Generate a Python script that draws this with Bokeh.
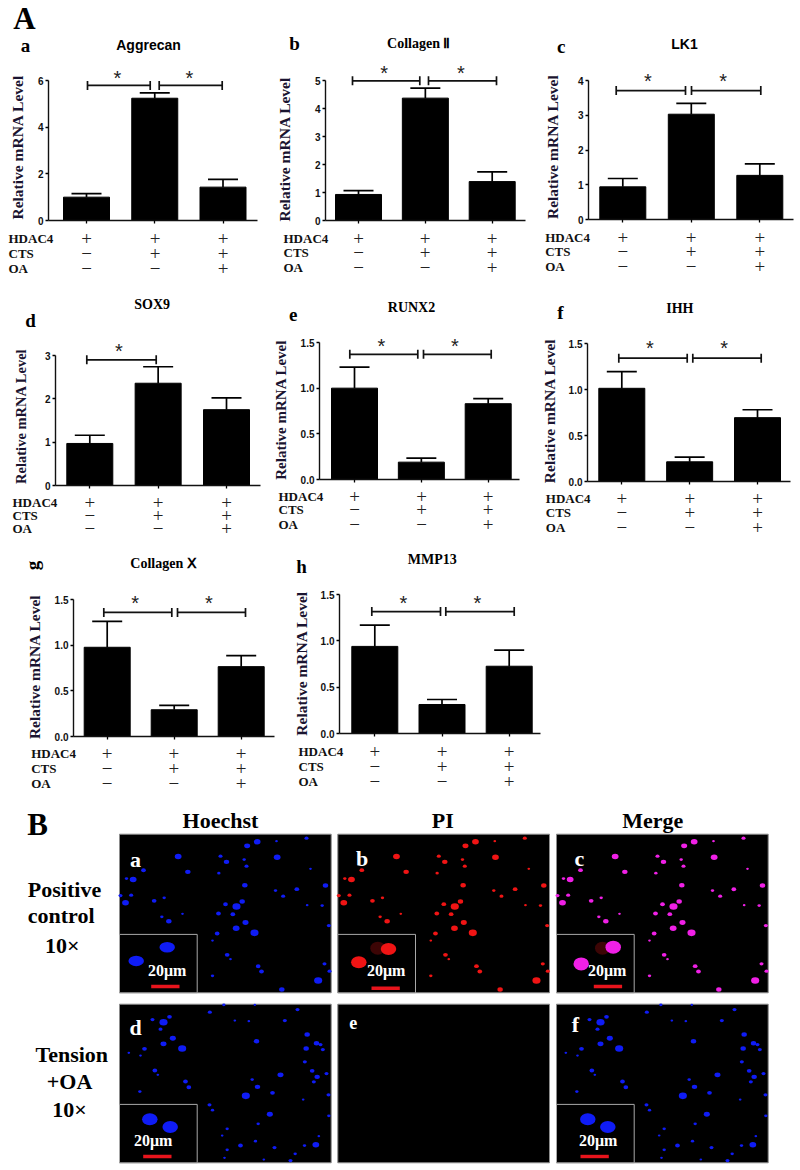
from bokeh.plotting import figure
from bokeh.models import Label, Range1d, FixedTicker, NumeralTickFormatter
from bokeh.layouts import column, row
from bokeh.embed import file_html
from bokeh.resources import INLINE

# ---------- data ----------
groups = [1, 2, 3]
row_names = ["HDAC4", "CTS", "OA"]
hdac4_signs = ["+", "+", "+"]
cts_signs = ["\u2212", "+", "+"]
oa_signs = ["\u2212", "\u2212", "+"]

aggrecan_mean = [1.00, 5.24, 1.43]
aggrecan_top = [1.15, 5.47, 1.76]
collagen2_mean = [0.93, 4.37, 1.39]
collagen2_top = [1.07, 4.73, 1.74]
lk1_mean = [0.94, 3.03, 1.27]
lk1_top = [1.18, 3.34, 1.60]
sox9_mean = [0.97, 2.36, 1.75]
sox9_top = [1.16, 2.74, 2.02]
runx2_mean = [1.00, 0.19, 0.83]
runx2_top = [1.23, 0.234, 0.886]
ihh_mean = [1.013, 0.214, 0.694]
ihh_top = [1.195, 0.265, 0.78]
collagen10_mean = [0.977, 0.293, 0.765]
collagen10_top = [1.26, 0.34, 0.886]
mmp13_mean = [0.94, 0.313, 0.726]
mmp13_top = [1.17, 0.367, 0.90]

ticks_6 = [0, 2, 4, 6]
ticks_5 = [0, 1, 2, 3, 4, 5]
ticks_4 = [0, 1, 2, 3, 4]
ticks_3 = [0, 1, 2, 3]
ticks_15 = [0, 0.5, 1.0, 1.5]

# nuclei of the upper and lower micrographs, in 1/3 pixel of the image: x, y, diameter (px)
upper_x = [740,770,830,660,678,731,738,533,562,429,655,398,378,733,889,825,848,975,392,375,360,461,491,725,708,675,654,697,505,484,546,735,707,762,650,636,680,690,773,783,972,953,844,636,985,987,920,965,930,918,828]
upper_y = [136,124,170,167,184,177,197,168,214,209,218,237,234,254,266,270,287,255,284,307,285,301,292,303,318,311,339,341,362,349,340,366,383,397,399,420,463,476,497,513,490,540,567,526,375,512,314,315,205,113,122]
upper_d = [4.5,5,5,3,4,2.5,3,5,4,3.5,2.5,5,2.5,4,3.5,2.5,3,4,3,5,3,3.5,2.5,4,6,3.5,3.5,3.5,4,2.5,2,4.5,5,6,3.5,2,3.5,2,3.5,3.5,3,6,4,2.5,3,3,2,2.5,2,3,2]
lower_x = [456,489,507,480,517,489,545,432,420,385,463,472,555,565,418,628,670,763,703,745,853,891,920,768,948,960,917,967,913,935,978,950,840,940,755,771,816,736,984,908,627,636,808,985,773,680,665,720,765,822,680,884,912,946,870,790,672,955]
lower_y = [87,95,79,116,143,160,174,175,195,187,240,253,273,290,303,65,43,43,90,92,90,57,132,152,158,162,174,177,214,241,249,259,253,274,267,289,307,316,313,327,343,359,371,376,400,415,435,465,452,471,478,490,465,463,510,507,502,437]
lower_d = [3,6,3.5,3,4.5,4.5,6,3.5,2,2,3.5,2,3.5,3.5,2.5,3,2.5,2,2,2,3,3,4,4,4,3,4,3,3,3.5,3,4,4.5,3,2.5,4,3.5,6,3,2,3,2.5,4.5,2.5,2.5,2.5,2,3.5,2.5,3,2.5,2.5,2.5,5,3,2,2,2]

SERIF = "Liberation Serif"
SANS = "Liberation Sans"


def text(p, x, y, t, size, font=SERIF, style="bold", color="black", angle=0, align="center", units="data"):
    p.add_layout(Label(x=x, y=y, x_units=units, y_units=units, text=t, text_font=font, text_font_style=style,
                       text_font_size=f"{size}px", text_color=color, angle=angle, angle_units="deg",
                       text_align=align, text_baseline="middle"))


def band(x_a, x_b, y_a, y_b):
    """A strip of the page whose data units are page pixels; holds texts and pictures."""
    p = figure(width=x_b - x_a, height=y_b - y_a, output_backend="svg", toolbar_location=None,
               x_range=Range1d(x_a, x_b), y_range=Range1d(y_b, y_a), x_axis_type=None, y_axis_type=None,
               min_border=0, outline_line_color=None, background_fill_color="white", border_fill_color="white")
    p.grid.visible = False
    p.margin = (0, 0, 0, 0)
    p.frame_align = False
    return p


def bar_panel(box, ax_l, ax_r, y_top, y0, centers, means, tops, ymax, ticks, fmt,
              title, title_xy, title_font, letter, letter_xy, label_standoff, label_pad,
              names_x, rows_y, brackets, bracket_y, stars, star_y, top_band, letter_angle=0, label_size=15.5):
    fx, fy, fw, row_bottom = box
    ax_l, ax_r, y_top, y0 = round(ax_l), round(ax_r), round(y_top), round(y0)
    dx = (centers[2] - centers[0]) / 2
    scale = (y0 - y_top) / ymax
    px2x = lambda px: 1 + (px - centers[0]) / dx
    p = figure(width=fw, height=y0 + 6 - fy, output_backend="svg", toolbar_location=None,
               x_range=Range1d(px2x(ax_l), px2x(ax_r)), y_range=Range1d(0, (y0 - fy) / scale),
               min_border_left=ax_l - fx, min_border_right=fx + fw - ax_r,
               min_border_top=0, min_border_bottom=6,
               background_fill_color="white", border_fill_color="white", outline_line_color=None)
    p.grid.visible = False
    p.margin = (0, 0, 0, 0)
    p.frame_align = False

    bar_w = 46 / dx
    cap = 15 / dx
    p.vbar(x=groups, top=means, bottom=0, width=bar_w, fill_color="black", line_color="black")
    p.segment(x0=groups, x1=groups, y0=means, y1=tops, line_color="black", line_width=1.7)
    p.segment(x0=[g - cap for g in groups], x1=[g + cap for g in groups], y0=tops, y1=tops,
              line_color="black", line_width=1.7)

    for x0, x1 in brackets:
        xa, xb = px2x(x0), px2x(x1)
        h = 4.5 / scale
        p.segment(x0=[xa, xa, xb], x1=[xb, xa, xb], y0=[bracket_y, bracket_y - h, bracket_y - h],
                  y1=[bracket_y, bracket_y + h, bracket_y + h], line_color="#111111", line_width=1.7)
    for sx in stars:
        text(p, sx - fx, star_y + 1 - fy, "*", 20, font=SANS, style="normal", color="#222222", units="canvas")

    xa = p.xaxis[0]
    xa.ticker = FixedTicker(ticks=groups)
    xa.major_label_overrides = {1: "", 2: "", 3: ""}
    xa.major_label_standoff = 0
    xa.major_tick_in = 0
    xa.major_tick_out = 3
    xa.minor_tick_line_color = None
    xa.axis_line_width = 1.4
    xa.major_tick_line_width = 1.3
    xa.axis_line_color = "#111111"
    ya = p.yaxis[0]
    ya.ticker = FixedTicker(ticks=ticks)
    ya.formatter = NumeralTickFormatter(format=fmt)
    ya.bounds = (0, ymax)
    ya.major_tick_in = 0
    ya.major_tick_out = 3
    ya.major_label_standoff = 2
    ya.minor_tick_line_color = None
    ya.axis_line_width = 1.4
    ya.major_tick_line_width = 1.3
    ya.axis_line_color = "#111111"
    ya.major_label_text_font = SANS
    ya.major_label_text_font_style = "bold"
    ya.major_label_text_font_size = "10px"
    ya.major_label_text_color = "#111111"
    # the label is centred on the frame; trailing no-break spaces move it down to where it sits
    ya.axis_label = "Relative mRNA Level" + "\u00a0" * label_pad
    ya.axis_label_text_font = SERIF
    ya.axis_label_text_font_style = "bold"
    ya.axis_label_text_font_size = f"{label_size}px"
    ya.axis_label_text_color = "#1a1430"
    ya.axis_label_standoff = label_standoff

    text(top_band, title_xy[0], title_xy[1], title, 14, font=title_font)
    text(top_band, letter_xy[0], letter_xy[1], letter, 19, angle=letter_angle)

    lower_band = band(fx, fx + fw, y0 + 6, row_bottom)
    for name, ry, signs in zip(row_names, rows_y, [hdac4_signs, cts_signs, oa_signs]):
        text(lower_band, names_x, ry, name, 13, align="left", color="#111111")
        for cx, s in zip(centers, signs):
            text(lower_band, cx, ry, s, 19, style="normal", color="#222222")
    return column(p, lower_band, spacing=0)


t1 = band(0, 800, 0, 58)
text(t1, 24, 18, "A", 31)
pa = bar_panel((0, 58, 270, 290), 48, 257, 80, 220, [86, 154.5, 222.5], aggrecan_mean, aggrecan_top, 6, ticks_6, "0",
               "Aggrecan", (148, 44), SANS, "a", (25, 45), 9, 4, 8, [238, 253, 268],
               [(87, 149.7), (158.7, 221.7)], 5.79, [117, 189], 76, t1)
pb = bar_panel((270, 58, 260, 290), 325, 525, 80, 219.7, [358, 424.7, 491.7], collagen2_mean, collagen2_top, 5, ticks_5, "0",
               "Collagen \u2161", (418.3, 43), SERIF, "b", (294, 43), 19, 5, 283, [237.5, 252, 267.3],
               [(352, 419.3), (428, 496)], 4.99, [383.7, 460.3], 71.7, t1)
pc = bar_panel((530, 58, 270, 290), 588.3, 793, 80, 219, [622.3, 690.7, 759.3], lk1_mean, lk1_top, 4, ticks_4, "0",
               "LK1", (684, 43.7), SANS, "c", (560.7, 46), 14, 4, 544.7, [236.5, 250.5, 265.7],
               [(615.7, 685), (691, 760.3)], 3.71, [647.3, 722.7], 79.3, t1)
row1 = column(t1, row(pa, pb, pc, spacing=0), spacing=0)

t2 = band(0, 800, 290, 332)
pd = bar_panel((0, 332, 265, 540), 55, 260, 355, 485, [89.3, 157.7, 226], sox9_mean, sox9_top, 3, ticks_3, "0",
               "SOX9", (151.7, 304), SERIF, "d", (30, 320), 13, 4, 12, [502, 515, 528.3],
               [(86.3, 155.7)], 2.90, [118.3], 349.3, t2, label_size=14.5)
pe = bar_panel((265, 332, 265, 540), 319.3, 519.3, 342.3, 479, [354, 421, 487.7], runx2_mean, runx2_top, 1.5, ticks_15, "0.0",
               "RUNX2", (411, 307.3), SERIF, "e", (292.7, 314.3), 9, 2, 278, [496, 509.3, 524.3],
               [(349.3, 417.3), (423, 490.7)], 1.37, [381, 454.3], 344.3, t2, label_size=15)
pf = bar_panel((530, 332, 270, 540), 587.3, 790, 343.3, 481, [621.3, 689.3, 757], ihh_mean, ihh_top, 1.5, ticks_15, "0.0",
               "IHH", (679.3, 308.3), SERIF, "f", (560, 311.7), 8, 2, 545.3, [498.2, 512.3, 527.3],
               [(618.3, 686.7), (692.3, 760.7)], 1.34, [649.3, 723.7], 346.7, t2)
row2 = column(t2, row(pd, pe, pf, spacing=0), spacing=0)

t3 = band(0, 800, 540, 585)
pg = bar_panel((0, 585, 285, 800), 72.7, 274, 599, 735.7, [106.7, 173.3, 240.7], collagen10_mean, collagen10_top, 1.5, ticks_15, "0.0",
               "Collagen \u2169", (163, 563.3), SERIF, "g", (32, 565), 9, 3, 30.7, [753.3, 767.7, 782.7],
               [(103.3, 171.3), (177, 245)], 1.358, [134.7, 208.3], 601.7, t3, letter_angle=90)
ph = bar_panel((285, 585, 275, 800), 339, 540, 594.3, 733.3, [374.3, 441.7, 508.7], mmp13_mean, mmp13_top, 1.5, ticks_15, "0.0",
               "MMP13", (431.7, 559), SERIF, "h", (301, 566), 8, 2, 298, [750.7, 765.7, 780.7],
               [(371.3, 440), (445.3, 513.7)], 1.316, [403, 477], 601.3, t3)
row3 = column(t3, row(pg, ph, spacing=0), spacing=0)

# ---------- fluorescence panels ----------
pm = band(0, 800, 800, 1170)

IMG_W, IMG_H = 211.7, 158.6
INSET_W, INSET_H = 77.7, 58.4
columns_x = [119, 337.3, 556]
rows_top = [833.7, 1003.7]
BLUE, RED, MAG = "#0f1cf5", "#f01414", "#f020e6"


def micro(col, rw, letter, letter_xy, letter_size, dots, color, inset_dots, glow, bar_x, bar_y, scale_x, inset_h=10.5):
    x0, y0 = columns_x[col], rows_top[rw]
    pm.quad(left=x0, right=x0 + IMG_W, top=y0, bottom=y0 + IMG_H, fill_color="black", line_color="#8c8c8c", line_width=1)
    if dots is not None:
        xs, ys, ds = dots
        cx = [x0 + (a - 357) / 3 for a in xs]
        cy = [y0 + (b - (101 if rw == 0 else 41)) / 3 for b in ys]
        pm.ellipse(x=cx, y=cy, width=[d * 1.35 for d in ds], height=[d * 1.1 for d in ds],
                   fill_color=color, line_color=None)
    text(pm, *letter_xy, letter, letter_size, color="white")
    if inset_dots is None:
        return
    top = y0 + IMG_H - INSET_H
    pm.quad(left=x0, right=x0 + INSET_W, top=top, bottom=y0 + IMG_H, fill_color="black", line_color="#a8a8a8", line_width=1)
    if glow:
        gx, gy = glow
        pm.ellipse(x=[x0 + gx], y=[y0 + gy], width=[15], height=[13], fill_color="#3c0505", line_color=None)
    pm.ellipse(x=[x0 + p_[0] for p_ in inset_dots], y=[y0 + p_[1] for p_ in inset_dots],
               width=[15.5, 15.5], height=[inset_h, inset_h], fill_color=color, line_color=None)
    pm.quad(left=x0 + bar_x, right=x0 + bar_x + 28.3, top=y0 + bar_y - 1.7, bottom=y0 + bar_y + 1.7,
            fill_color="#e8141c", line_color=None)
    text(pm, x0 + scale_x, y0 + 136.3, "20\u03bcm", 16, color="white")


upper = (upper_x, upper_y, upper_d)
lower = (lower_x, lower_y, lower_d)
micro(0, 0, "a", (135, 859.3), 22, upper, BLUE, [(47.7, 113), (16.7, 126.7)], None, 31.7, 152.3, 47.7)
micro(1, 0, "b", (361.7, 858.3), 22, upper, RED, [(50.7, 114.7), (21, 128)], (40, 114), 33.7, 154, 48.3, inset_h=12)
micro(2, 0, "c", (579, 858.3), 22, upper, MAG, [(56.7, 113), (24.7, 129.7)], (46, 114), 37.3, 152.3, 50.7, inset_h=13)
micro(0, 1, "d", (135, 1026.7), 22, lower, BLUE, [(30.3, 115), (50.7, 122.7)], None, 23.7, 152.3, 33.7, inset_h=12)
micro(1, 1, "e", (352.7, 1022.3), 18, None, None, None, None, 0, 0, 0)
micro(2, 1, "f", (575, 1024.3), 22, lower, BLUE, [(31.3, 115), (51.3, 122.7)], None, 24, 152.3, 41.7, inset_h=12)

text(pm, 37, 824, "B", 31)
text(pm, 220, 820, "Hoechst", 22)
text(pm, 442.3, 820, "PI", 22)
text(pm, 652.3, 820, "Merge", 22)
text(pm, 64, 889.3, "Positive", 22)
text(pm, 60.7, 915.3, "control", 22)
text(pm, 61.7, 945, "10\u00d7", 22)
text(pm, 71.3, 1054.3, "Tension", 22)
text(pm, 69, 1081, "+OA", 22)
text(pm, 69, 1109.3, "10\u00d7", 22)

page = column(row1, row2, row3, pm, spacing=0)
open("out.html", "w").write(file_html(page, INLINE))
